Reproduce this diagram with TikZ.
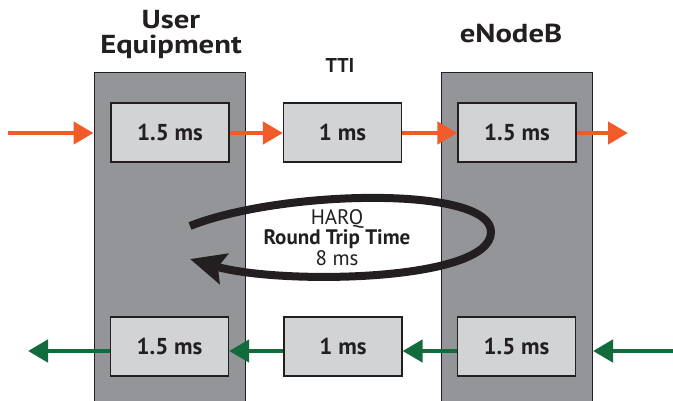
\documentclass[tikz,border=0pt]{standalone}
\usepackage{fontspec}
\setmainfont{PT Sans}
\newfontfamily\titlefont[FakeStretch=1.18]{PT Sans}
\usetikzlibrary{arrows.meta}
\definecolor{ink}{HTML}{231F20}
\definecolor{colgray}{HTML}{939598}
\definecolor{boxgray}{HTML}{D1D3D4}
\definecolor{orng}{HTML}{F15A29}
\definecolor{grn}{HTML}{126B3B}
\begin{document}
\begin{tikzpicture}[x=1pt,y=-1pt,
  column/.style={draw=ink, line width=1pt, fill=colgray, minimum width=151pt, minimum height=340pt, anchor=north, inner sep=0pt},
  stage/.style={draw=ink, line width=1.2pt, fill=boxgray, minimum width=118pt, minimum height=59pt, inner sep=0pt, font=\fontsize{23}{26}\selectfont\bfseries, text=ink},
  title/.style={font=\titlefont\fontsize{26}{25}\selectfont\bfseries, text=ink, align=center, inner sep=0pt},
  oarr/.style={draw=orng, line width=4.5pt, -{Triangle[length=20pt,width=22pt]}},
  garr/.style={draw=grn, line width=4.5pt, -{Triangle[length=20pt,width=22pt]}},
  looparr/.style={draw=ink, line width=8pt, -{Stealth[length=35pt,width=31pt,inset=6pt]}},
  harqtext/.style={font=\fontsize{21}{20.5}\selectfont, text=ink, align=center, inner sep=0pt}
]
\useasboundingbox (0,0) rectangle (673,400);
\clip (0,0) rectangle (673,400);
% columns
\node[column] (ue) at (169.5,72) {};
\node[column] (enb) at (517,72) {};
% titles
\node[title, anchor=base] (uet) at (171,53) {User\\Equipment};
\node[title, anchor=base] (enbt) at (511,42) {eNodeB};
\node[font=\fontsize{20}{22}\selectfont\bfseries, text=ink, anchor=base, inner sep=0pt] (tti) at (340,72) {TTI};
% top row
\node[stage] (ue1) at (170,132.5) {1.5 ms};
\node[stage] (tti1) at (342.5,132.5) {1 ms};
\node[stage] (enb1) at (517,132.5) {1.5 ms};
% bottom row
\node[stage] (ue2) at (169.5,346.5) {1.5 ms};
\node[stage] (tti2) at (343,346.5) {1 ms};
\node[stage] (enb2) at (516.5,346.5) {1.5 ms};
% orange arrows
\coordinate (oy) at (0,133);
\coordinate (oin) at (8,133);
\coordinate (oout) at (628,133);
\draw[oarr] (oin) -- (oin -| ue.west);
\draw[oarr] (ue1.east |- oy) -- (tti1.west |- oy);
\draw[oarr] (tti1.east |- oy) -- (enb1.west |- oy);
\draw[oarr] (enb1.east |- oy) -- (oout);
% green arrows
\coordinate (gy) at (0,351);
\coordinate (gin) at (673,351);
\coordinate (gout) at (28,351);
\draw[garr] (gin) -- (enb.east |- gy);
\draw[garr] (enb2.west |- gy) -- (tti2.east |- gy);
\draw[garr] (tti2.west |- gy) -- (ue2.east |- gy);
\draw[garr] (ue2.west |- gy) -- (gout);
% HARQ loop
\coordinate (ls) at (190,226);
\coordinate (rr) at (491,232);
\coordinate (le) at (190,259);
\draw[looparr] (ls) .. controls (280,190) and (491,185) .. (rr) .. controls (491,282) and (280,285) .. (le);
\node[harqtext, anchor=base] (harq) at (337,265) {HARQ\\\textbf{Round Trip Time}\\8 ms};
\end{tikzpicture}
\end{document}
